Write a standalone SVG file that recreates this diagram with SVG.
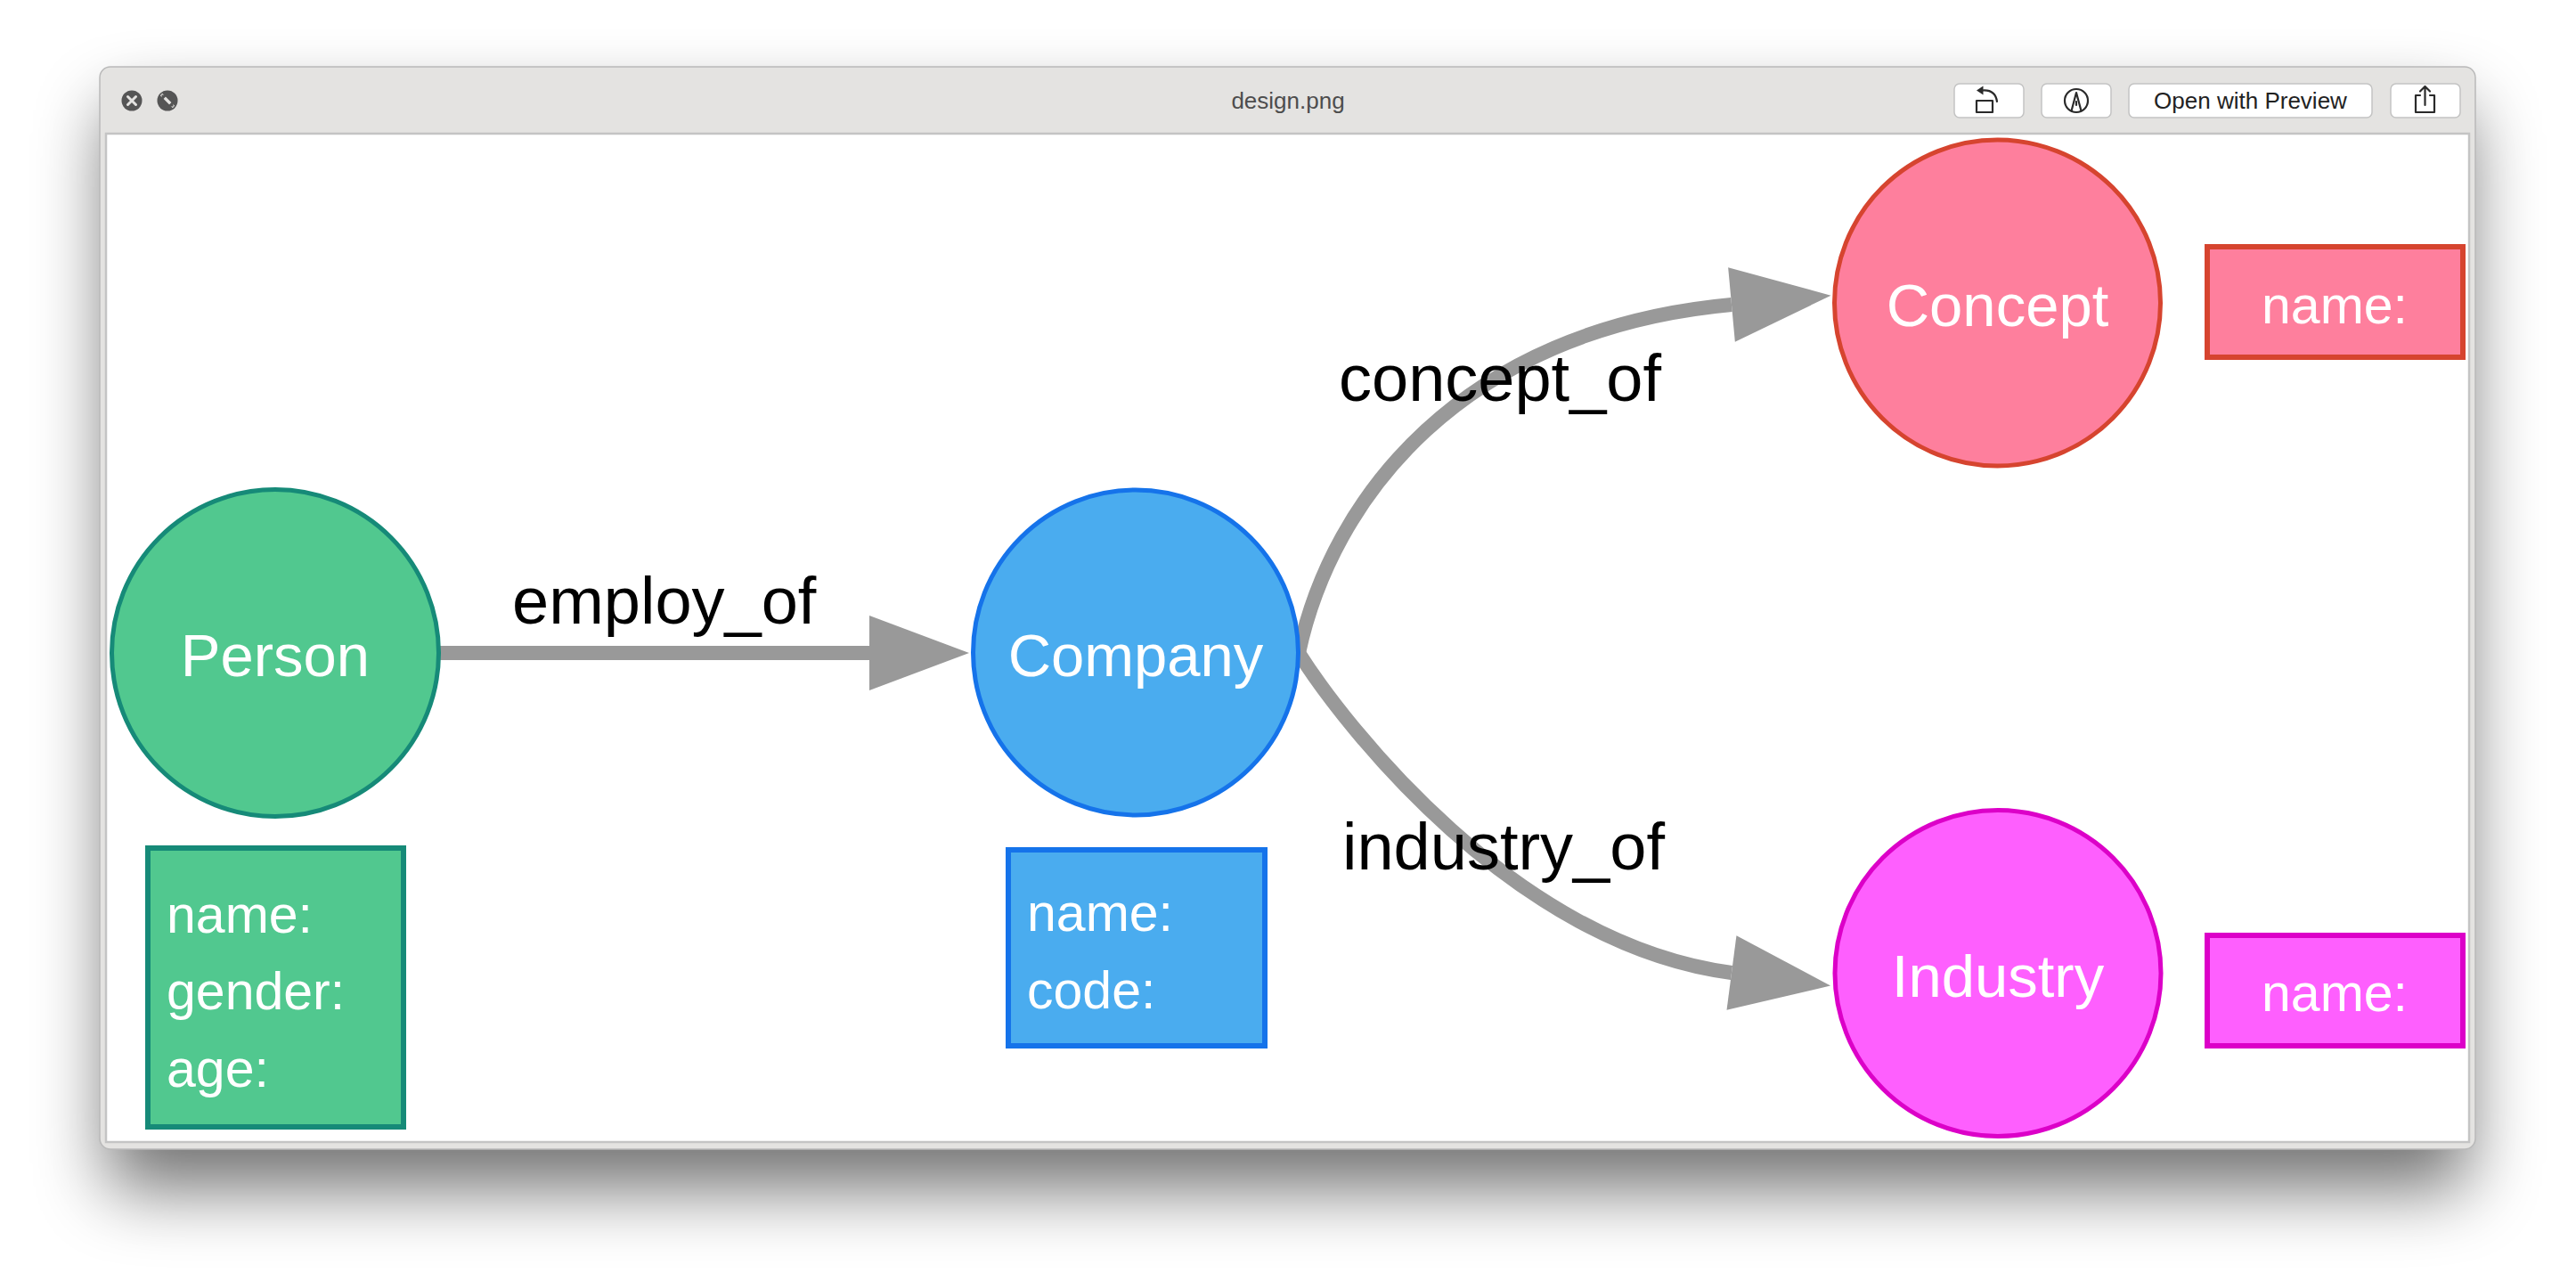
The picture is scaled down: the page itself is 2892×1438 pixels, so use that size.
<svg xmlns="http://www.w3.org/2000/svg" width="2892" height="1438" viewBox="0 0 2892 1438">
  <defs>
    <filter id="winShadow" x="-10%" y="-10%" width="120%" height="140%">
      <feGaussianBlur stdDeviation="40"/>
    </filter>
    <marker id="arrow" markerUnits="userSpaceOnUse" markerWidth="114" markerHeight="86" refX="0" refY="43" orient="auto" overflow="visible">
      <path d="M0,1 L112,43 L0,85 Z" fill="#999999"/>
    </marker>
    <style>
      .node-label { font-family: "Liberation Sans", Arial, sans-serif; font-size: 67px; fill: #ffffff; text-anchor: middle; }
      .prop { font-family: "Liberation Sans", Arial, sans-serif; font-size: 59px; fill: #ffffff; }
      .edge { fill: none; stroke: #999999; stroke-width: 16; }
      .edge-label { font-family: "Liberation Sans", Arial, sans-serif; font-size: 74px; fill: #000000; }
      .btn { fill: #ffffff; stroke: #c3c3c3; stroke-width: 1.5; }
      .icon { fill: none; stroke: #2a2a2a; stroke-width: 2.2; stroke-linecap: round; stroke-linejoin: round; }
      .chrome-text { font-family: "Liberation Sans", Arial, sans-serif; }
    </style>
  </defs>

  <rect width="2892" height="1438" fill="#ffffff"/>

  <!-- window shadow -->
  <rect x="120" y="120" width="2651" height="1215" rx="14" fill="#000000" opacity="0.55" filter="url(#winShadow)"/>

  <!-- window frame -->
  <g id="window">
    <rect x="112" y="75" width="2667" height="1215" rx="12" fill="#e4e3e1" stroke="#b9b9b9" stroke-width="1.5"/>
    <rect x="119" y="150" width="2653" height="1132" fill="#ffffff" stroke="#c4c4c4" stroke-width="2.5"/>
    <g id="btn-close">
      <circle cx="148" cy="113" r="11.5" fill="#555555"/>
      <path d="M143.5,108.5 L152.5,117.5 M152.5,108.5 L143.5,117.5" stroke="#e4e3e1" stroke-width="3" stroke-linecap="round"/>
    </g>
    <g id="btn-full">
      <circle cx="188" cy="113" r="11.5" fill="#555555"/>
      <path d="M181,106 L195,120" stroke="#e4e3e1" stroke-width="3.2"/>
      <path d="M181.5,106.5 L188,106.5 L181.5,113 Z" fill="#555555"/>
      <path d="M194.5,119.5 L188,119.5 L194.5,113 Z" fill="#555555"/>
    </g>
    <text x="1446" y="122" class="chrome-text" font-size="26" fill="#4d4d4d" text-anchor="middle">design.png</text>
    <g id="btn-rotate">
      <rect class="btn" x="2194" y="94" width="78" height="38" rx="6"/>
      <rect class="icon" x="2219" y="113" width="18" height="13"/>
      <path class="icon" d="M2225,101.5 Q2240,100 2242,114"/>
      <path d="M2219,101.5 L2226.5,96.5 L2226.5,106.5 Z" fill="#2a2a2a"/>
    </g>
    <g id="btn-markup">
      <rect class="btn" x="2292" y="94" width="78" height="38" rx="6"/>
      <circle class="icon" cx="2331" cy="113" r="13"/>
      <path class="icon" d="M2325.5,124.5 L2331,104 L2336.5,124.5"/>
      <path class="icon" d="M2331,114 L2331,118"/>
    </g>
    <g id="btn-preview">
      <rect class="btn" x="2390" y="94" width="273" height="38" rx="6"/>
      <text x="2526.5" y="122" class="chrome-text" font-size="26" fill="#222222" text-anchor="middle">Open with Preview</text>
    </g>
    <g id="btn-share">
      <rect class="btn" x="2684" y="94" width="78" height="38" rx="6"/>
      <path class="icon" d="M2717,107 L2712,107 L2712,126 L2733,126 L2733,107 L2728,107"/>
      <path class="icon" d="M2722.5,118 L2722.5,97 M2717,102.5 L2722.5,97 L2728,102.5"/>
    </g>
  </g>

  <!-- connectors -->
  <g id="connectors">
    <g id="edge-employ_of">
      <path class="edge" d="M490,733 L976,733" stroke-linecap="round" marker-end="url(#arrow)"/>
      <text class="edge-label" x="575" y="700">employ_of</text>
    </g>
    <g id="edge-concept_of">
      <path class="edge" d="M1458,733 C1495,560 1640,370 1944,342" marker-end="url(#arrow)"/>
      <text class="edge-label" x="1503" y="450">concept_of</text>
    </g>
    <g id="edge-industry_of">
      <path class="edge" d="M1458,733 C1510,815 1700,1060 1944,1092" marker-end="url(#arrow)"/>
      <text class="edge-label" x="1507" y="976">industry_of</text>
    </g>
  </g>

  <!-- nodes -->
  <g id="node-person">
    <circle cx="309" cy="733" r="183.5" fill="#51c88f" stroke="#168a78" stroke-width="5"/>
    <text class="node-label" x="309" y="759">Person</text>
  </g>
  <g id="props-person">
    <rect x="166" y="952" width="287" height="313" fill="#51c88f" stroke="#168a78" stroke-width="6"/>
    <text class="prop" x="187" y="1047">name:</text>
    <text class="prop" x="187" y="1133">gender:</text>
    <text class="prop" x="187" y="1220">age:</text>
  </g>

  <g id="node-company">
    <circle cx="1275" cy="732.5" r="182.5" fill="#4aacef" stroke="#1573ea" stroke-width="5"/>
    <text class="node-label" x="1275" y="759">Company</text>
  </g>
  <g id="props-company">
    <rect x="1132" y="954" width="288" height="220" fill="#4aacef" stroke="#1573ea" stroke-width="6"/>
    <text class="prop" x="1153" y="1045">name:</text>
    <text class="prop" x="1153" y="1132">code:</text>
  </g>

  <g id="node-concept">
    <circle cx="2242.5" cy="340" r="183" fill="#fe7f9d" stroke="#d6442f" stroke-width="5"/>
    <text class="node-label" x="2242.5" y="366">Concept</text>
  </g>
  <g id="props-concept">
    <rect x="2478" y="277" width="287" height="124" fill="#fe7f9d" stroke="#d6442f" stroke-width="6"/>
    <text class="prop" x="2621" y="363" text-anchor="middle">name:</text>
  </g>

  <g id="node-industry">
    <circle cx="2243" cy="1092.5" r="183" fill="#fe5ffe" stroke="#dc00c8" stroke-width="5"/>
    <text class="node-label" x="2243" y="1119">Industry</text>
  </g>
  <g id="props-industry">
    <rect x="2478" y="1050" width="287" height="124" fill="#fe5ffe" stroke="#dc00c8" stroke-width="6"/>
    <text class="prop" x="2621" y="1135" text-anchor="middle">name:</text>
  </g>
</svg>
